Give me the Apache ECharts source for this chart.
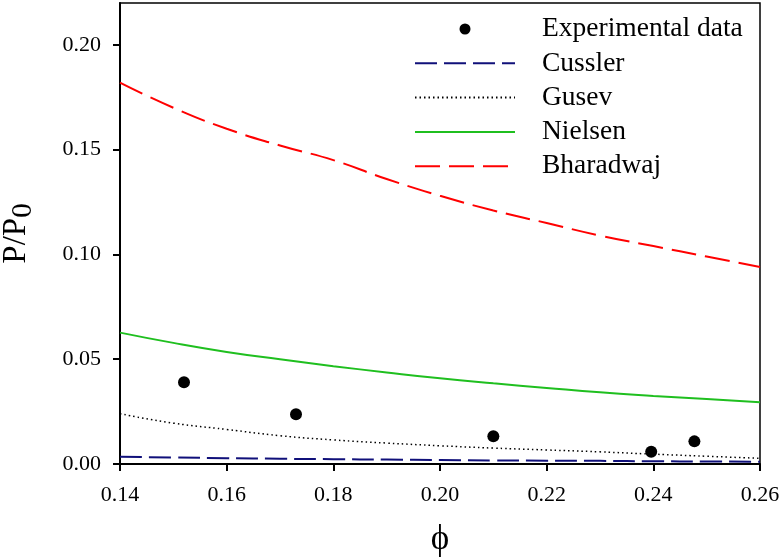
<!DOCTYPE html>
<html>
<head>
<meta charset="utf-8">
<script src="https://cdn.jsdelivr.net/npm/echarts@6/dist/echarts.min.js"></script>
<style>
  html, body { margin: 0; padding: 0; background: #fff; }
  #main { width: 782px; height: 559px; }
</style>
</head>
<body>
<div id="main"></div>
<script>
// model curves, sampled on phi grid
var phiGrid = [0.14, 0.15, 0.16, 0.17, 0.18, 0.19, 0.20, 0.21, 0.22, 0.23, 0.24, 0.25, 0.26];
var cussler = [0.0035, 0.0031, 0.0028, 0.0025, 0.0023, 0.0021, 0.0019, 0.0017, 0.0016, 0.0015, 0.0013, 0.0012, 0.0011];
var gusev = [0.024, 0.0195, 0.0165, 0.0135, 0.0115, 0.0100, 0.0087, 0.0076, 0.0067, 0.0058, 0.0047, 0.0037, 0.0027];
var nielsen = [0.0627, 0.0578, 0.0535, 0.0500, 0.0467, 0.0437, 0.0409, 0.0385, 0.0363, 0.0342, 0.0325, 0.0310, 0.0295];
var bharadwaj = [0.182, 0.170, 0.160, 0.152, 0.145, 0.136, 0.128, 0.121, 0.115, 0.109, 0.104, 0.099, 0.094];

// experimental points
var expPhi = [0.152, 0.173, 0.210, 0.2396, 0.2477];
var expVal = [0.039, 0.0237, 0.0132, 0.0059, 0.0108];

function pairs(xs, ys) {
  return xs.map(function (x, i) { return [x, ys[i]]; });
}

var font = '"Liberation Serif", "DejaVu Serif", serif';
var noDot = { opacity: 0 };
var chart = echarts.init(document.getElementById('main'));
chart.setOption({
  animation: false,
  textStyle: { fontFamily: font },
  grid: {
    left: 120, right: 22, top: 3, bottom: 95,
    outerBoundsMode: 'none',
    containLabel: false,
    show: true, borderColor: '#000', borderWidth: 1.5
  },
  legend: {
    orient: 'vertical',
    left: 409,
    top: 10,
    itemWidth: 100,
    itemHeight: 11,
    itemGap: 6.3,
    textStyle: { fontFamily: font, fontSize: 27.5, lineHeight: 28, color: '#000', padding: [0, 0, 0, 22] },
    data: [
      { name: 'Experimental data' },
      { name: 'Cussler', itemStyle: noDot },
      { name: 'Gusev', itemStyle: noDot },
      { name: 'Nielsen', itemStyle: noDot },
      { name: 'Bharadwaj', itemStyle: noDot }
    ]
  },
  xAxis: {
    type: 'value',
    min: 0.14, max: 0.26, interval: 0.02,
    name: 'ϕ',
    nameLocation: 'middle',
    nameGap: 58,
    nameTextStyle: { fontFamily: font, fontSize: 35, color: '#000' },
    axisLine: { lineStyle: { color: '#000', width: 2 } },
    axisTick: { inside: false, length: 7, lineStyle: { color: '#000', width: 2 } },
    axisLabel: {
      margin: 20, fontFamily: font, fontSize: 22, color: '#000',
      formatter: function (v) { return v.toFixed(2); }
    },
    splitLine: { show: false }
  },
  yAxis: {
    type: 'value',
    min: 0, max: 0.22, interval: 0.05,
    name: 'P/P{s|0}',
    nameLocation: 'middle',
    nameGap: 82,
    nameTextStyle: {
      fontFamily: font, fontSize: 33, color: '#000',
      rich: { s: { fontFamily: font, fontSize: 29, color: '#000', padding: [14, 0, 0, 0] } }
    },
    axisLine: { lineStyle: { color: '#000', width: 2 } },
    axisTick: { inside: false, length: 7, lineStyle: { color: '#000', width: 2 } },
    axisLabel: {
      margin: 19, fontFamily: font, fontSize: 22, color: '#000',
      showMaxLabel: false,
      formatter: function (v) { return v > 0.21 ? '' : v.toFixed(2); }
    },
    splitLine: { show: false }
  },
  series: [
    {
      name: 'Experimental data',
      type: 'scatter',
      symbol: 'circle',
      symbolSize: 12,
      itemStyle: { color: '#000', opacity: 1 },
      data: pairs(expPhi, expVal),
      z: 5
    },
    {
      name: 'Cussler',
      type: 'line',
      smooth: true,
      symbol: 'none',
      itemStyle: { color: '#10107a' },
      lineStyle: { color: '#10107a', width: 2, type: [22, 7] },
      data: pairs(phiGrid, cussler)
    },
    {
      name: 'Gusev',
      type: 'line',
      smooth: true,
      symbol: 'none',
      itemStyle: { color: '#000' },
      lineStyle: { color: '#000', width: 1.5, type: [1.5, 3] },
      data: pairs(phiGrid, gusev)
    },
    {
      name: 'Nielsen',
      type: 'line',
      smooth: true,
      symbol: 'none',
      itemStyle: { color: '#1fbf1f' },
      lineStyle: { color: '#1fbf1f', width: 2 },
      data: pairs(phiGrid, nielsen)
    },
    {
      name: 'Bharadwaj',
      type: 'line',
      smooth: true,
      symbol: 'none',
      itemStyle: { color: '#ff0000' },
      lineStyle: { color: '#ff0000', width: 2, type: [25, 9] },
      data: pairs(phiGrid, bharadwaj)
    }
  ]
});
</script>
</body>
</html>
